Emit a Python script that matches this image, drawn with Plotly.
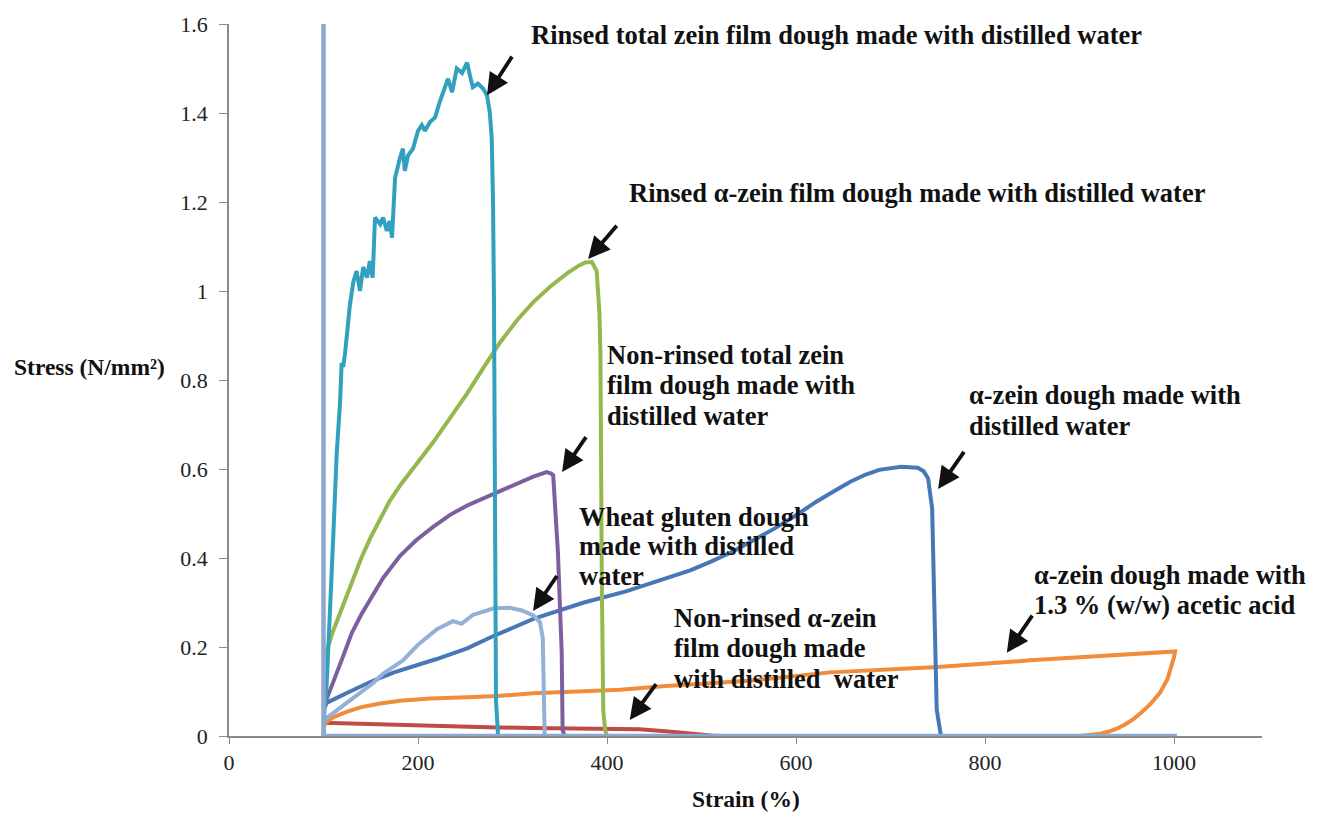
import plotly.graph_objects as go

# ---------------- data (strain %, stress N/mm2) ----------------
teal_x = [100, 101, 103.4, 106.9, 110.4, 114, 117.5, 119.2, 120.9, 122.8, 128, 131.5, 135, 138.6, 142, 146, 149, 152,
          154.5, 160, 163, 167, 170, 172.5, 175.7, 181, 184, 186, 189.5, 194.7, 200, 204, 207.4, 212.7, 218, 223,
          228.6, 231.7, 236, 241, 246.6, 251.9, 255, 258, 263.5, 268.8, 273, 276, 278, 279.4, 280.4, 281.5, 282.5, 284.7]
teal_y = [0, 0.06, 0.118, 0.265, 0.452, 0.637, 0.749, 0.838, 0.83, 0.86, 0.97, 1.02, 1.045, 1.0, 1.054, 1.03, 1.067, 1.03,
          1.165, 1.15, 1.165, 1.135, 1.157, 1.12, 1.254, 1.30, 1.32, 1.27, 1.305, 1.32, 1.36, 1.373, 1.36, 1.38, 1.39, 1.425,
          1.455, 1.477, 1.447, 1.50, 1.49, 1.513, 1.484, 1.458, 1.466, 1.455, 1.44, 1.40, 1.343, 1.194, 0.97, 0.526, 0.08, 0]

green_x = [100, 105, 110, 120, 130, 140, 150, 160, 170, 181, 200, 216, 234, 252, 270, 287, 305, 322, 340, 358, 370,
           377, 384, 389, 392, 393, 394.5, 395, 396, 398, 400]
green_y = [0.17, 0.205, 0.235, 0.29, 0.345, 0.40, 0.447, 0.49, 0.528, 0.563, 0.615, 0.66, 0.715, 0.77, 0.83, 0.885,
           0.935, 0.975, 1.01, 1.04, 1.057, 1.064, 1.065, 1.045, 0.95, 0.86, 0.34, 0.1, 0.058, 0.013, 0]

purple_x = [100, 105, 110, 120, 130, 140, 150, 163, 181, 198, 216, 234, 252, 270, 287, 305, 322, 336, 341, 343, 346,
            348, 350, 352, 353, 355]
purple_y = [0.065, 0.095, 0.12, 0.175, 0.232, 0.273, 0.31, 0.355, 0.405, 0.44, 0.47, 0.497, 0.518, 0.535, 0.55, 0.566,
            0.583, 0.593, 0.59, 0.586, 0.50, 0.414, 0.30, 0.19, 0.013, 0]

blue_x = [100, 103.7, 128, 150, 174.6, 219.7, 252, 277, 322, 375.6, 420, 455, 488, 510, 532.6, 555, 577, 600, 621,
          640, 657, 673, 688, 711, 728.7, 735, 739.7, 744, 746.5, 748.8, 753, 755]
blue_y = [0.06, 0.075, 0.10, 0.122, 0.143, 0.173, 0.197, 0.222, 0.263, 0.30, 0.325, 0.348, 0.372, 0.392, 0.414, 0.44,
          0.466, 0.496, 0.526, 0.55, 0.571, 0.587, 0.598, 0.605, 0.603, 0.595, 0.579, 0.511, 0.286, 0.06, 0.004, 0]

wheat_x = [100, 115, 128, 152, 163, 184, 200, 220, 237, 246, 258, 270, 280, 297, 310, 322, 329, 332, 333, 334]
wheat_y = [0.035, 0.058, 0.08, 0.118, 0.14, 0.17, 0.205, 0.24, 0.258, 0.252, 0.272, 0.28, 0.287, 0.288, 0.282, 0.271,
           0.256, 0.22, 0.1, 0]

red_x = [100, 130, 160, 220, 264, 320, 398, 434, 465, 490, 510, 520]
red_y = [0.03, 0.028, 0.026, 0.023, 0.02, 0.018, 0.016, 0.015, 0.01, 0.004, 0.001, 0]

orange_x = [100, 102, 110, 125, 140, 160, 181, 213, 252, 284, 322, 371, 414, 459, 550, 636, 750, 848, 950, 1001,
            1000, 997, 993, 985, 975, 965, 957, 948, 940, 931, 922, 900]
orange_y = [0.02, 0.03, 0.042, 0.055, 0.065, 0.073, 0.079, 0.084, 0.087, 0.09, 0.096, 0.1, 0.104, 0.112, 0.124, 0.143,
            0.155, 0.17, 0.183, 0.19, 0.178, 0.155, 0.128, 0.097, 0.072, 0.052, 0.038, 0.026, 0.017, 0.01, 0.005, 0]

base_x = [100, 100, 1003]
base_y = [1.6, 0, 0]

x_ticks = [0, 200, 400, 600, 800, 1000]
y_ticks = [0, 0.2, 0.4, 0.6, 0.8, 1.0, 1.2, 1.4, 1.6]

SERIF = "Liberation Serif, Times New Roman, serif"

fig = go.Figure()
series = [
    (red_x, red_y, "#BE4B48", 4),
    (orange_x, orange_y, "#F08C3A", 4),
    (blue_x, blue_y, "#4678B8", 4),
    (wheat_x, wheat_y, "#93B1D8", 4),
    (purple_x, purple_y, "#7D5FA0", 4),
    (green_x, green_y, "#94B84F", 4),
    (teal_x, teal_y, "#32A0BF", 4),
    (base_x, base_y, "#8EA8D0", 4.5),
]
for xs, ys, col, w in series:
    fig.add_trace(go.Scatter(x=xs, y=ys, mode="lines", line=dict(color=col, width=w),
                             hoverinfo="skip", showlegend=False))

# ---------------- annotations ----------------
ann = []
TXT = dict(family=SERIF, size=26.5, color="#111111")

labels = [
    (318.5, [1.576], ["<b>Rinsed total zein film dough made with distilled water</b>"]),
    (422.2, [1.221], ["<b>Rinsed α-zein film dough made with distilled water</b>"]),
    (399, [0.857, 0.788, 0.719], ["<b>Non-rinsed total zein</b>", "<b>film dough made with</b>", "<b>distilled water</b>"]),
    (782, [0.766, 0.697], ["<b>α-zein dough made with</b>", "<b>distilled water</b>"]),
    (369.3, [0.493, 0.426, 0.359], ["<b>Wheat gluten dough</b>", "<b>made with distilled</b>", "<b>water</b>"]),
    (469.8, [0.266, 0.197, 0.128], ["<b>Non-rinsed α-zein</b>", "<b>film dough made</b>", "<b>with distilled  water</b>"]),
    (850.8, [0.362, 0.295], ["<b>α-zein dough made with</b>", "<b>1.3 % (w/w) acetic acid</b>"]),
]
for lx, lys, texts in labels:
    for ly, t in zip(lys, texts):
        ann.append(dict(x=lx, y=ly, xref="x", yref="y", text=t, showarrow=False,
                        xanchor="left", yanchor="middle", font=TXT, borderpad=0))

arrows = [
    ((300.5, 1.53), (273, 1.44)),
    ((411.6, 1.15), (380, 1.072)),
    ((378.8, 0.675), (352.4, 0.593)),
    ((778.8, 0.642), (750.3, 0.555)),
    ((348, 0.363), (321.7, 0.281)),
    ((453, 0.12), (424, 0.036)),
    ((851, 0.274), (823, 0.187)),
]
for (tx, ty), (hx, hy) in arrows:
    ann.append(dict(x=hx, y=hy, ax=tx, ay=ty, xref="x", yref="y", axref="x", ayref="y",
                    text="", showarrow=True, arrowhead=2, arrowsize=1.15, arrowwidth=3.8,
                    arrowcolor="#111111", standoff=0, startstandoff=0))

ann.append(dict(x=-0.21, y=0.518, xref="paper", yref="paper", text="<b>Stress (N/mm²)</b>",
                showarrow=False, xanchor="left", yanchor="middle",
                font=dict(family=SERIF, size=23.5, color="#111111")))
ann.append(dict(x=0.5, y=-0.089, xref="paper", yref="paper", text="<b>Strain (%)</b>",
                showarrow=False, xanchor="center", yanchor="middle",
                font=dict(family=SERIF, size=23.5, color="#111111")))

fig.update_layout(
    width=1327, height=816,
    margin=dict(l=229, r=65, t=18, b=80),
    paper_bgcolor="white", plot_bgcolor="white",
    annotations=ann,
    showlegend=False,
)
fig.update_xaxes(range=[0, 1093], tickvals=x_ticks, ticks="outside", ticklen=6, tickcolor="#8a8a8a",
                 showline=True, linecolor="#8a8a8a", linewidth=1.5, showgrid=False, zeroline=False,
                 tickfont=dict(family=SERIF, size=22, color="#222222"), ticklabelstandoff=0)
fig.update_yaxes(range=[0, 1.6], tickvals=y_ticks, ticktext=[f"{v:g}" for v in y_ticks],
                 ticks="outside", ticklen=8, tickcolor="#8a8a8a",
                 showline=True, linecolor="#8a8a8a", linewidth=1.5, showgrid=False, zeroline=False,
                 tickfont=dict(family=SERIF, size=22, color="#222222"), ticklabelstandoff=7)

fig.write_html("out.html", config={"displayModeBar": False},
               post_script="document.body.style.margin='0';")
